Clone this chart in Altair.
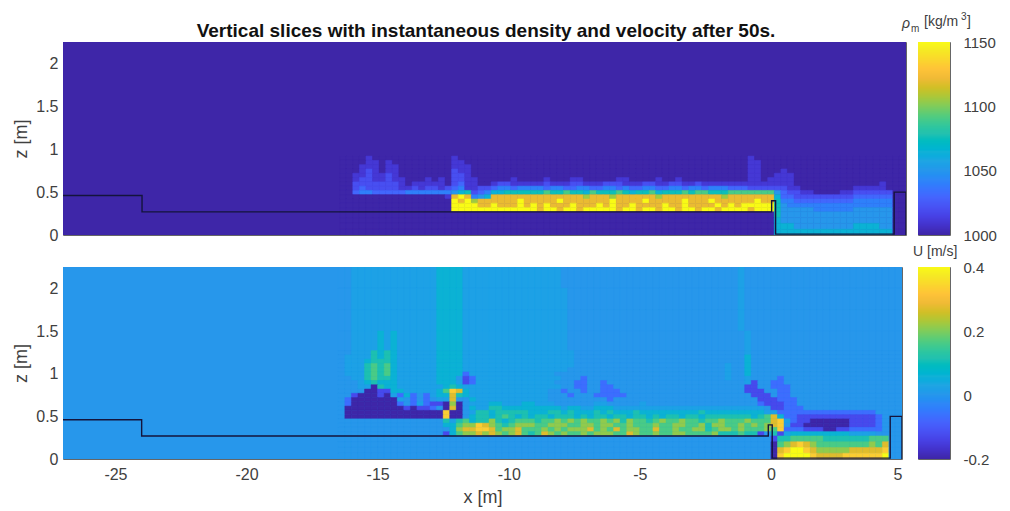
import altair as alt
import numpy as np
import pandas as pd

PARULA_RGB = [
 (.2422,.1504,.6603),(.2647,.1978,.7952),(.2783,.2559,.8991),(.2810,.3228,.9579),
 (.2699,.3892,.9906),(.2206,.4603,.9973),(.1786,.5289,.9682),(.1540,.5902,.9218),
 (.1248,.6459,.8883),(.0689,.6948,.8394),(.0067,.7312,.7660),(.1408,.7584,.6842),
 (.2161,.7843,.5923),(.3406,.8008,.4789),(.5044,.7993,.3480),(.6720,.7793,.2227),
 (.8203,.7498,.1535),(.9393,.7288,.2100),(.9970,.7659,.2199),(.9786,.8386,.1766),
 (.9597,.9135,.1423),(.9769,.9839,.0805)]
PARULA = ["#%02x%02x%02x" % tuple(int(round(c*255)) for c in t) for t in PARULA_RGB]

CODES = "0123456789ab"
X_START, DX = -16.5, 0.25
# lower edges of the rows, from the top of the grid down
Z_LOWER = [2.0,1.75,1.5,1.27,1.22,1.17,1.12,1.07,1.02,.97,.92,.87,.82,.77,.72,.67,.62,.57,.52,.47,.42,.37,.32,.27,.2025,.135,.0675,0.0]
Z_UPPER = [2.25]+Z_LOWER[:-1]

RHO_LEVELS = [1000,1010,1020,1030,1040,1050,1065,1075,1090,1105,1120,1150]
RHO_ROWS = [
"0000100000 0000000100 0000000000 0000000000 0000000000 0000000000 0010000000 0000000000 000000",
"0000110100 0000000110 0000000000 0000000000 0000000000 0000000000 0011000000 0000000000 000000",
"0001110110 0000000111 0000000000 0000000000 0000000000 0000000000 0011000000 0000000000 000000",
"0001210110 0000000211 0000000000 0000000000 0000000000 0000000000 0011000100 0000000000 000000",
"0011211210 0000000221 0000000000 0000000000 0000000000 0000000000 0011001110 0000000000 000000",
"0012211211 0001010221 1000001000 0100011000 0011000010 0100000000 0011011110 0000000000 000000",
"0022222221 0111110231 1001221111 1211122111 2221112211 2211211111 1111111110 0000000000 001000",
"0023222221 1212212341 1223443444 4344334433 4434334433 4434434443 3322222211 0000000011 111000",
"0034433333 4444444567 2346677777 7877877687 7787677867 7787887778 8888885322 1100001122 222200",
"0000000000 0000001aba 456aaaaaaa aaaaaaa9aa a9aaaaaa9a aaaaaaaa9a aaaaaa6332 2222222233 333300",
"0000000000 0000000bab 9aaaaaabaa aaabaaaaaa abaaaabaaa aabaaabaaa aaabaa7443 3333333344 444400",
"0000000000 0000000bbb baabaaabab abaaabaaab abaabaaaab aabaaaabab abbbbb7544 4444444444 444400",
"0000000000 0000000bbb bbbbbbbbbb abbabbabbb bbabbabbab babbabbabb bbabbb7555 5544444455 555500",
"0000000000 0000000000 0000000000 0000000000 0000000000 0000000000 0000007555 5555555555 555500",
"0000000000 0000000000 0000000000 0000000000 0000000000 0000000000 0000006555 5555555555 555500",
"0000000000 0000000000 0000000000 0000000000 0000000000 0000000000 0000006665 5555555566 665500",
"0000000000 0000000000 0000000000 0000000000 0000000000 0000000000 0000006666 6666666666 666600",
]

U_LEVELS = [-0.2,-0.13,-0.07,0.0,0.02,0.06,0.11,0.16,0.21,0.27,0.33,0.40]
U_ROWS = [
"3344444444 4444455554 4444444444 4444333333 3333333333 3333333333 3433333333 3333333333 333333",
"3344444444 4444455554 4444444444 4444433333 3333333333 3333333333 3433333333 3333333333 333333",
"3344444444 4444455554 4444444444 4444433333 3333333333 3333333333 3433333333 3333333333 333333",
"3344445454 4444455554 4444444444 4444433333 3333333333 3333333333 3343333333 3333333333 333333",
"3344465654 4444455554 4444444444 4444443333 3333333333 3333333333 3343333333 3333333333 333333",
"3444465654 4444455554 4444444444 4444443333 3333333333 3333333333 3353333333 3333333333 333333",
"3444566654 4444455554 4444444444 4444443333 3333333333 3333333333 3353333333 3333333333 333333",
"3444676754 4444455554 4444444444 4444443333 3333333333 3333333334 3353333333 3333333333 333333",
"3444676754 4444455554 4444444444 4444433333 3333333333 3333333334 3353333333 3333333333 333333",
"3444676754 4444455552 4444444444 4443333333 3333333333 3333333334 3353333333 3333333333 333333",
"3344676654 4444455531 2444444444 4444333233 3333333333 3333333334 3343333233 3333333333 333333",
"3334565554 4444455541 2444444444 4443332233 2333333333 3333333333 3341332233 3333333333 333333",
"3334406554 4444445654 4444444444 4444332233 2233333333 3333333333 3311332223 3333333333 333333",
"3333001155 4444457a95 4444444444 4433233233 2223333333 3333333333 3311133223 3333333333 333333",
"3310001042 5232455965 4444444444 4433323332 2222333333 3333333333 3331113223 3333333333 333333",
"3200000004 3232344933 5444444444 4433333333 3233333333 3333333333 3333111222 3333333333 333333",
"3200000002 3242110803 4445544455 4443333334 4333334333 3333333333 3333211122 3333333333 333333",
"3000000000 1011230903 5446655555 5555455445 5544444444 4444444444 4444431122 2333333333 333333",
"3000000000 000000a003 4665666665 5566565556 5655565555 5555565555 5555544222 2222222222 223333",
"3000000000 000000a003 5665676565 6656665656 6566566565 6656656666 6665679522 1111111111 112333",
"3333333333 3333336467 5668656777 6778787877 8786877678 7787767787 7787779a42 1100000011 112333",
"3333333333 3333335578 8a98767888 7788877887 8877877787 7887786887 7878789a31 1000000011 112333",
"3333333333 3333333589 9aa9788977 7878788897 8797887797 7877886788 7877787a22 2111001122 222333",
"3333333333 3333331578 8989878976 7987877878 8877987787 7887777866 6766136145 5555555544 443333",
"3333333333 3333333333 3333333333 3333333333 3333333333 3333333333 3333331667 7777666666 677733",
"3333333333 3333333333 3333333333 3333333333 3333333333 3333333333 3333330789 a987777777 787933",
"3333333333 3333333333 3333333333 3333333333 3333333333 3333333333 33333309ab ba98888899 999a33",
"3333333333 3333333333 3333333333 3333333333 3333333333 3333333333 3333330abb bba9999aaa aaab33",
]

# vessel outline
WALL_X = [-27,-24,-24,-0.1,-0.1,0.05,0.05,4.55,4.55,5,5]
WALL_Z = [0.46,0.46,0.27,0.27,0.40,0.40,0.01,0.01,0.50,0.50,0.0]

XTICKS = [-25,-20,-15,-10,-5,0,5]
ZTICKS = [0,0.5,1,1.5,2]
RHO_TICKS = [1000,1050,1100,1150]
U_TICKS = [-0.2,0,0.2,0.4]

GREY = "#404040"
FONT = "Liberation Sans"


def grid_frame(rows, levels, background, n_skip):
    recs = [dict(x=-27, x2=5, z=0, z2=2.25, v=background)]
    for r, row in enumerate(rows):
        row = row.replace(" ", "")
        for c, ch in enumerate(row):
            lo = X_START + DX*c
            recs.append(dict(x=lo, x2=min(lo+DX, 5), z=Z_LOWER[r+n_skip], z2=Z_UPPER[r+n_skip], v=levels[CODES.index(ch)]))
    return pd.DataFrame(recs)


def panel(df, lo, hi, w, h, show_x):
    dom = list(np.linspace(lo, hi, len(PARULA)))
    cs = alt.Scale(domain=dom, range=PARULA, clamp=True)
    xaxis = alt.Axis(values=XTICKS, title="x [m]", grid=False, tickSize=0, domain=False, labelExpr="''+datum.value",
                     labelPadding=7, titlePadding=6, labelFontSize=16, titleFontSize=18) if show_x else None
    x = alt.X("x:Q", scale=alt.Scale(domain=[-27, 5], nice=False, zero=False), axis=xaxis)
    y = alt.Y("z:Q", scale=alt.Scale(domain=[0, 2.25], nice=False),
              axis=alt.Axis(values=ZTICKS, title="z [m]", grid=False, tickSize=0, domain=False, labelExpr="''+datum.value",
                            labelPadding=5, titlePadding=5, labelFontSize=16, titleFontSize=18))
    heat = alt.Chart(df).mark_rect(clip=True, strokeWidth=0.5).encode(
        x=x, x2="x2:Q", y=y, y2="z2:Q",
        color=alt.Color("v:Q", scale=cs, legend=None),
        stroke=alt.Stroke("v:Q", scale=cs, legend=None))
    wall = alt.Chart(pd.DataFrame({"x": WALL_X, "z": WALL_Z, "i": range(len(WALL_X))})).mark_line(
        color="#14143c", strokeWidth=1.4, clip=True).encode(x="x:Q", y="z:Q", order="i:Q")
    return alt.layer(heat, wall).properties(width=w, height=h)


def colorbar(lo, hi, ticks, h):
    step = (hi-lo)/h
    vals = np.arange(lo, hi, step)
    df = pd.DataFrame({"a": vals, "b": vals+step})
    dom = list(np.linspace(lo, hi, len(PARULA)))
    cs = alt.Scale(domain=dom, range=PARULA, clamp=True)
    return alt.Chart(df).mark_rect().encode(
        y=alt.Y("a:Q", scale=alt.Scale(domain=[lo, hi], nice=False, zero=False),
                axis=alt.Axis(values=ticks, orient="right", title=None, grid=False, tickSize=0, domain=False,
                              labelExpr="''+datum.value", labelPadding=13, labelFontSize=15)),
        y2="b:Q",
        color=alt.Color("a:Q", scale=cs, legend=None)).properties(width=32, height=h)


def label(t, x, y, size, **kw):
    return alt.Chart(pd.DataFrame({"t": [t]})).mark_text(fontSize=size, font=FONT, color=kw.pop("color", GREY), align=kw.pop("align", "left"), **kw).encode(
        text="t:N", x=alt.value(x), y=alt.value(y))


rho_df = grid_frame(RHO_ROWS, RHO_LEVELS, 1000, len(Z_LOWER)-len(RHO_ROWS))
u_df = grid_frame(U_ROWS, U_LEVELS, 0.0, 0)

top_panel = alt.layer(panel(rho_df, 1000, 1150, 843, 193, False),
                      label("Vertical slices with instantaneous density and velocity after 50s.", 423, -11, 19,
                            fontWeight="bold", color="#111111", align="center")).properties(width=843, height=193)

top_cb = alt.layer(colorbar(1000, 1150, RHO_TICKS, 193),
                   label("ρ", -16, -18, 14, fontStyle="italic"),
                   label("m", -7, -13, 10),
                   label("[kg/m", 6, -20, 14),
                   label("3", 43, -25, 10),
                   label("]", 49, -20, 14)).properties(width=32, height=193)

bottom_panel = panel(u_df, -0.2, 0.4, 839, 192, True)
bottom_cb = alt.layer(colorbar(-0.2, 0.4, U_TICKS, 192),
                      label("U [m/s]", -5, -15, 14)).properties(width=32, height=192)

chart = alt.concat(top_panel, top_cb, bottom_panel, bottom_cb, columns=2,
                   spacing={"row": 32, "column": 12},
                   bounds="flush").resolve_scale(color="independent", stroke="independent").configure_view(
    stroke="#666666", strokeWidth=1
).configure_axis(labelColor=GREY, titleColor=GREY, labelFont=FONT, titleFont=FONT, titleFontWeight="normal").properties(
    background="white", padding={"left": 4, "top": 3, "right": 5, "bottom": 0})

chart.save("out.html", embed_options={"renderer": "svg", "actions": False})
